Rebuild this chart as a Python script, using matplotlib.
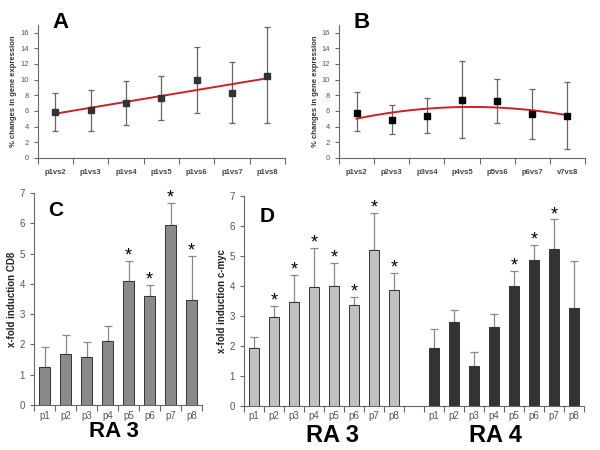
import numpy as np
import matplotlib
matplotlib.use('Agg')
import matplotlib.pyplot as plt

plt.rcParams['font.family'] = ['Liberation Sans', 'DejaVu Sans']

# --- data ---
a_labels = ['p1vs2', 'p1vs3', 'p1vs4', 'p1vs5', 'p1vs6', 'p1vs7', 'p1vs8']
a_mean = [5.9, 6.1, 7.0, 7.7, 9.9, 8.3, 10.5]
a_low = [3.5, 3.5, 4.2, 4.9, 5.8, 4.4, 4.4]
a_high = [8.3, 8.7, 9.8, 10.5, 14.2, 12.2, 16.7]

b_labels = ['p1vs2', 'p2vs3', 'p3vs4', 'p4vs5', 'p5vs6', 'p6vs7', 'v7vs8']
b_mean = [5.8, 4.8, 5.35, 7.45, 7.25, 5.55, 5.35]
b_low = [3.5, 3.05, 3.2, 2.6, 4.5, 2.4, 1.1]
b_high = [8.4, 6.7, 7.6, 12.4, 10.05, 8.8, 9.65]

p_labels = ['p1', 'p2', 'p3', 'p4', 'p5', 'p6', 'p7', 'p8']
c_vals = [1.27, 1.7, 1.6, 2.1, 4.1, 3.6, 5.95, 3.47]
c_err = [0.63, 0.62, 0.47, 0.5, 0.65, 0.37, 0.72, 1.46]
c_sig = [False, False, False, False, True, True, True, True]

d3_vals = [1.92, 2.97, 3.47, 3.96, 3.98, 3.35, 5.2, 3.86]
d3_err = [0.39, 0.35, 0.89, 1.3, 0.78, 0.28, 1.22, 0.57]
d3_sig = [False, True, True, True, True, True, True, True]

d4_vals = [1.92, 2.8, 1.33, 2.63, 3.98, 4.86, 5.21, 3.25]
d4_err = [0.64, 0.4, 0.46, 0.43, 0.52, 0.5, 1.0, 1.57]
d4_sig = [False, False, False, False, True, True, True, False]

fig = plt.figure(figsize=(6, 4.5), dpi=100)

GREY = '#555555'


def style_axes(ax, ncat):
    for s in ['top', 'right']:
        ax.spines[s].set_visible(False)
    for s in ['left', 'bottom']:
        ax.spines[s].set_color('#666666')
        ax.spines[s].set_linewidth(0.8)
    ax.set_xlim(-0.5, ncat - 0.5)
    ax.set_xticks(np.arange(ncat + 1) - 0.5)
    ax.set_xticklabels([])
    ax.tick_params(axis='x', which='major', length=4, color='#666666', direction='out')
    ax.tick_params(axis='y', length=3, color='#666666', labelcolor=GREY)


def trend_panel(ax, labels, mean, low, high, deg, msize, mcolor, letter):
    x = np.arange(len(mean))
    m = np.array(mean)
    yerr = [m - np.array(low), np.array(high) - m]
    ax.errorbar(x, m, yerr=yerr, fmt='none', ecolor='#666666', elinewidth=0.9,
                capsize=2.5, capthick=0.9, zorder=2)
    coef = np.polyfit(x, m, deg)
    xs = np.linspace(0, len(m) - 1, 100)
    ax.plot(xs, np.polyval(coef, xs), color='#cc2222', lw=1.4, zorder=3)
    ax.plot(x, m, 's', ms=msize, color=mcolor, zorder=4)
    style_axes(ax, len(m))
    ax.set_ylim(0, 17)
    ax.set_yticks(range(0, 17, 2))
    ax.tick_params(axis='y', labelsize=5.5)
    ax.set_xticks(x, minor=True)
    ax.set_xticklabels(labels, minor=True, fontsize=5.5, fontweight='bold', color='#444444')
    ax.tick_params(axis='x', which='minor', length=0, pad=8)
    ax.set_ylabel('% changes in gene expression', fontsize=5.5, fontweight='bold',
                  color='#333333', labelpad=2)
    ax.text(0.06, 1.02, letter, transform=ax.transAxes, fontsize=16, fontweight='bold',
            va='center')


# Panel A
axA = fig.add_axes([0.063, 0.649, 0.412, 0.296])
trend_panel(axA, a_labels, a_mean, a_low, a_high, 1, 3.8, '#333333', 'A')

# Panel B
axB = fig.add_axes([0.565, 0.649, 0.41, 0.296])
trend_panel(axB, b_labels, b_mean, b_low, b_high, 2, 5, '#000000', 'B')


def bars(ax, pos, vals, err, sig, color):
    ax.bar(pos, vals, width=0.5, color=color, edgecolor='#333333', linewidth=0.7, zorder=2)
    ax.errorbar(pos, vals, yerr=[np.zeros(len(err)), err], fmt='none', ecolor='#888888',
                elinewidth=0.9, capsize=3, capthick=0.9, zorder=1)
    for p, v, e, s in zip(pos, vals, err, sig):
        if s:
            ax.text(p, v + e - 0.12, '*', ha='center', va='bottom', fontsize=13, color='black')


def bar_axes(ax, ncat, pos, ylabel):
    style_axes(ax, ncat)
    ax.set_ylim(0, 7)
    ax.set_yticks(range(0, 8))
    ax.tick_params(axis='y', labelsize=7)
    ax.set_xticks(pos, minor=True)
    ax.set_xticklabels(p_labels * (len(pos) // 8), minor=True, fontsize=7, color=GREY)
    ax.tick_params(axis='x', which='minor', length=0, pad=4)
    ax.set_ylabel(ylabel, fontsize=7, fontweight='bold', color='#222222', labelpad=2)


# Panel C
axC = fig.add_axes([0.057, 0.1, 0.28, 0.471])
xc = np.arange(8)
bars(axC, xc, c_vals, c_err, c_sig, '#8a8a8a')
bar_axes(axC, 8, xc, 'x-fold induction CD8')
axC.text(0.08, 0.92, 'C', transform=axC.transAxes, fontsize=15, fontweight='bold', va='center')
axC.text(3.3, -0.125, 'RA 3', transform=axC.get_xaxis_transform(), fontsize=16,
         fontweight='bold', ha='center', va='center')

# Panel D
axD = fig.add_axes([0.407, 0.098, 0.566, 0.467])
x3 = np.arange(8)
x4 = np.arange(8) + 9
bars(axD, x3, d3_vals, d3_err, d3_sig, '#c0c0c0')
bars(axD, x4, d4_vals, d4_err, d4_sig, '#333333')
bar_axes(axD, 17, np.concatenate([x3, x4]), 'x-fold induction c-myc')
axD.text(0.045, 0.9, 'D', transform=axD.transAxes, fontsize=15, fontweight='bold', va='center')
axD.text(3.9, -0.14, 'RA 3', transform=axD.get_xaxis_transform(), fontsize=17,
         fontweight='bold', ha='center', va='center')
axD.text(12.1, -0.14, 'RA 4', transform=axD.get_xaxis_transform(), fontsize=17,
         fontweight='bold', ha='center', va='center')

fig.savefig('out.png', dpi=100)
